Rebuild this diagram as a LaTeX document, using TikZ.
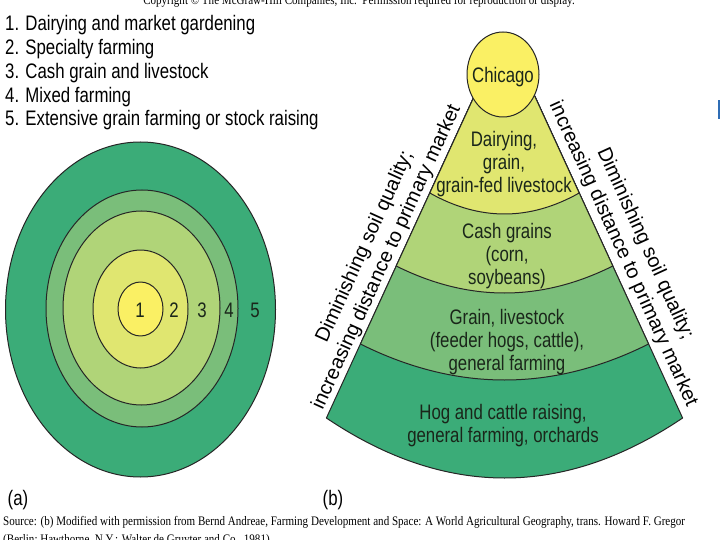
\documentclass[tikz,border=0pt]{standalone}
\usepackage{fontspec}
\setmainfont{Liberation Sans}
\newfontfamily\narrowsans{Liberation Sans}[FakeStretch=0.8]
\newfontfamily\narrowserif{Liberation Serif}[FakeStretch=0.85]
\definecolor{zoneA}{HTML}{FAF064}
\definecolor{zoneB}{HTML}{E0E670}
\definecolor{zoneC}{HTML}{B0D478}
\definecolor{zoneD}{HTML}{7ABE7A}
\definecolor{zoneE}{HTML}{3BAC78}
\definecolor{inkdark}{HTML}{1A261A}
\definecolor{bluemark}{HTML}{2F6DB5}
\begin{document}
\begin{tikzpicture}[x=1pt,y=-1pt,
  zone/.style={draw=black!85, line width=1pt, line join=round},
  lbl/.style={font=\narrowsans\fontsize{21}{23}\selectfont, text=inkdark, align=center, inner sep=0pt},
  listitem/.style={font=\narrowsans\fontsize{21}{23}\selectfont, text=black, anchor=base west, inner sep=0pt},
  sidelbl/.style={font=\fontsize{20}{24}\selectfont, text=black, align=center, inner sep=0pt},
  srctext/.style={font=\narrowserif\fontsize{13}{15}\selectfont, text=black, anchor=base west, inner sep=0pt}]
\useasboundingbox (0,0) rectangle (720,540);
\fill[white] (0,0) rectangle (720,540);

% header
\node[font=\narrowserif\fontsize{13}{15}\selectfont, anchor=base, inner sep=0pt] (copy) at (359,5)
  {Copyright \textcopyright\ The McGraw-Hill Companies, Inc.\ \ Permission required for reproduction or display.};

% legend list
\node[listitem] (l1) at (5,31) {1. Dairying and market gardening};
\node[listitem] (l2) at (5,55) {2. Specialty farming};
\node[listitem] (l3) at (5,79) {3. Cash grain and livestock};
\node[listitem] (l4) at (5,103) {4. Mixed farming};
\node[listitem] (l5) at (5,126) {5. Extensive grain farming or stock raising};

% (a) concentric zones
\draw[zone, fill=zoneE] (140.5,309.5) ellipse [x radius=135, y radius=167.5];
\draw[zone, fill=zoneD] (142,308.5) ellipse [x radius=96, y radius=118.5];
\draw[zone, fill=zoneC] (141.5,308) ellipse [x radius=78.5, y radius=97];
\draw[zone, fill=zoneB] (140.5,309) ellipse [x radius=47.5, y radius=59];
\draw[zone, fill=zoneA] (140.5,309) ellipse [x radius=22.5, y radius=27];
\node[lbl] (z1) at (140,310) {1};
\node[lbl] (z2) at (174,310) {2};
\node[lbl] (z3) at (202,310) {3};
\node[lbl] (z4) at (229,310) {4};
\node[lbl] (z5) at (255,310) {5};

% (b) fan
\draw[zone, fill=zoneE] (474.8,95) -- (326.4,418) .. controls (445.1,498) and (563.9,498) .. (682.6,418) -- (534.2,95) -- cycle;
\draw[zone, fill=zoneD] (474.8,95) -- (360.4,344) .. controls (456.5,392) and (552.5,392) .. (648.6,344) -- (534.2,95) -- cycle;
\draw[zone, fill=zoneC] (474.8,95) -- (396.2,266) .. controls (468.4,302) and (540.6,302) .. (612.8,266) -- (534.2,95) -- cycle;
\draw[zone, fill=zoneB] (474.8,95) -- (429.8,193) .. controls (479.6,221) and (529.4,221) .. (579.2,193) -- (534.2,95) -- cycle;
\draw[zone, fill=zoneA] (503,74.5) ellipse [x radius=36, y radius=42.5];
\node[lbl] (chicago) at (503,77) {Chicago};

\node[lbl] (dairy) at (504,164) {Dairying,\\grain,\\grain-fed livestock};
\node[lbl] (cash) at (507,256) {Cash grains\\(corn,\\soybeans)};
\node[lbl] (grain) at (507,342) {Grain, livestock\\(feeder hogs, cattle),\\general farming};
\node[lbl] (hog) at (503,426) {Hog and cattle raising,\\general farming, orchards};

\node[sidelbl, rotate=65.5] (lside) at (376,252) {Diminishing soil quality;\\increasing distance to primary market};
\node[sidelbl, rotate=-65.5] (rside) at (634,249) {Diminishing soil quality;\\increasing distance to primary market};

% panel letters
\node[lbl, text=black] (pa) at (18,500) {(a)};
\node[lbl, text=black] (pb) at (333,500) {(b)};

% source
\node[srctext] (src1) at (3,525) {Source: (b) Modified with permission from Bernd Andreae, Farming Development and Space: A World Agricultural Geography, trans. Howard F. Gregor};
\node[srctext] (src2) at (3,543) {(Berlin; Hawthorne, N.Y.: Walter de Gruyter and Co., 1981).};

% small blue mark at right edge
\fill[bluemark] (717.5,100) rectangle (720,119);
\end{tikzpicture}
\end{document}
